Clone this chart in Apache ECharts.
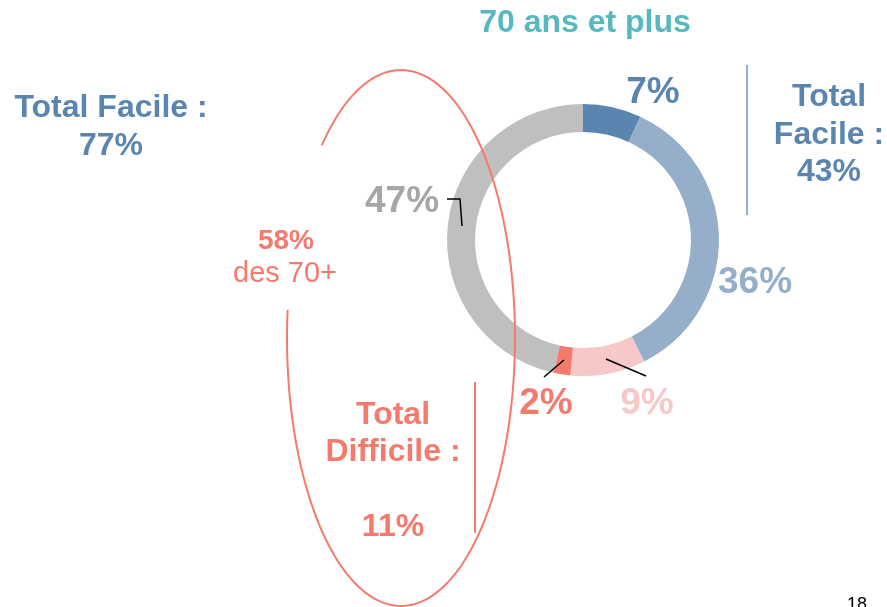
<!DOCTYPE html>
<html>
<head>
<meta charset="utf-8">
<script src="https://cdn.jsdelivr.net/npm/echarts@6/dist/echarts.min.js"></script>
<style>
  * { margin: 0; padding: 0; }
  body { background: #fff; }
</style>
</head>
<body>
<div id="main" style="width: 887px; height: 607px;"></div>
<script>
  // donut data, clockwise from 12 o'clock
  var categories = ['Très facile', 'Plutôt facile', 'Plutôt difficile', 'Très difficile', 'Ne sait pas']
  var values = [7, 36, 9, 2, 47]
  var sliceColors = ['#5a85b0', '#95afcb', '#f6c9c8', '#f47a6e', '#bfbfbf']
  var labelColors = ['#5a85b0', '#95afcb', '#f6c9c8', '#f47a6e', '#a6a6a6']

  var title = '70 ans et plus'
  var totalFacileAll = 77
  var totalFacile = 43
  var totalDifficile = 11
  var share70 = 58

  // where each slice label sits (screen px)
  var labelPos = [[653, 93], [755, 283], [647, 404], [546, 404], [402, 202]]

  var font = '"Liberation Sans", Arial, sans-serif'
  var blue = '#5a85b0'
  var red = '#f47a6e'

  // open ellipse round the 70+ group (drawn as a polyline, gap on the left)
  function ellipsePoints(cx, cy, rx, ry, fromDeg, toDeg) {
    var pts = []
    for (var a = fromDeg; a <= toDeg; a += 2) {
      var t = a * Math.PI / 180
      pts.push([cx + rx * Math.cos(t), cy + ry * Math.sin(t)])
    }
    return pts
  }

  var chart = echarts.init(document.getElementById('main'))

  chart.setOption({
    backgroundColor: '#fff',
    animation: false,
    series: [{
      type: 'pie',
      center: [583, 240],
      radius: [108, 136],
      startAngle: 90,
      clockwise: true,
      silent: true,
      itemStyle: { borderWidth: 0 },
      label: {
        show: true,
        formatter: '{c}%',
        fontFamily: font,
        fontWeight: 'bold',
        fontSize: 37
      },
      labelLine: { show: false },
      labelLayout: function (p) {
        var pos = labelPos[p.dataIndex]
        return { x: pos[0], y: pos[1], align: 'center', verticalAlign: 'middle' }
      },
      data: categories.map(function (name, i) {
        return {
          name: name,
          value: values[i],
          itemStyle: { color: sliceColors[i] },
          label: { color: labelColors[i] }
        }
      })
    }],
    graphic: [
      { type: 'text', x: 585, y: 23, style: { text: title, fill: '#56b9bf', font: 'bold 32px ' + font, align: 'center', verticalAlign: 'middle' } },
      // left total
      { type: 'text', x: 111, y: 127, style: { text: 'Total Facile :\n' + totalFacileAll + '%', fill: blue, font: 'bold 32px ' + font, lineHeight: 38, align: 'center', verticalAlign: 'middle' } },
      // right total
      { type: 'text', x: 829, y: 135, style: { text: 'Total\nFacile :\n' + totalFacile + '%', fill: blue, font: 'bold 32px ' + font, lineHeight: 37.5, align: 'center', verticalAlign: 'middle' } },
      { type: 'line', shape: { x1: 747, y1: 65, x2: 747, y2: 215 }, style: { stroke: '#95afcb', lineWidth: 2 } },
      // bottom total
      { type: 'text', x: 393, y: 471, style: { text: 'Total\nDifficile :\n\n' + totalDifficile + '%', fill: red, font: 'bold 32px ' + font, lineHeight: 37.5, align: 'center', verticalAlign: 'middle' } },
      { type: 'line', shape: { x1: 475, y1: 382, x2: 475, y2: 533 }, style: { stroke: red, lineWidth: 2 } },
      // 58% des 70+
      { type: 'text', x: 286, y: 241, style: { text: share70 + '%', fill: red, font: 'bold 28px ' + font, align: 'center', verticalAlign: 'middle' } },
      { type: 'text', x: 285, y: 274, style: { text: 'des 70+', fill: red, font: '29px ' + font, align: 'center', verticalAlign: 'middle' } },
      { type: 'polyline', z: 10, shape: { points: ellipsePoints(401, 338, 114, 268, 226, 546) }, style: { stroke: red, lineWidth: 2, fill: null } },
      // leader lines
      { type: 'polyline', z: 10, shape: { points: [[447, 199], [460, 199], [462, 226]] }, style: { stroke: '#000', lineWidth: 1.5, fill: null } },
      { type: 'line', z: 10, shape: { x1: 544, y1: 377, x2: 564, y2: 360 }, style: { stroke: '#000', lineWidth: 1.5 } },
      { type: 'line', z: 10, shape: { x1: 606, y1: 359, x2: 646, y2: 376 }, style: { stroke: '#000', lineWidth: 1.5 } },
      // page number
      { type: 'text', x: 857, y: 596, style: { text: '18', fill: '#000', font: '18px ' + font, align: 'center', verticalAlign: 'top' } }
    ]
  })
</script>
</body>
</html>
